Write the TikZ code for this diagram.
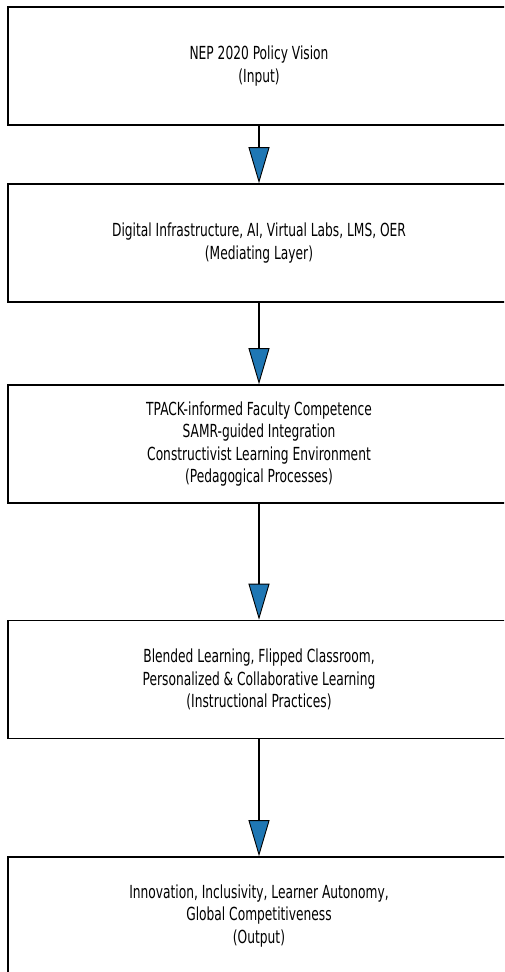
\documentclass[tikz,border=0pt]{standalone}
\usepackage{fontspec}
\newfontfamily\stagefont{DejaVu Sans}[FakeStretch=0.68]
\usetikzlibrary{arrows.meta}
\definecolor{flowblue}{HTML}{1F77B4}
\tikzset{
  stage/.style={draw=black,line width=1.6pt,minimum width=502pt,minimum height=118pt,
    align=center,font=\stagefont\fontsize{18}{22.3}\selectfont,inner sep=0pt},
  flow/.style={line width=1.6pt,-{Triangle[length=36pt,width=21pt,fill=flowblue,line width=0.9pt]}}
}
\begin{document}
\begin{tikzpicture}[x=1pt,y=-1pt]
\clip (0,0) rectangle (504,972);
\fill[white] (0,0) rectangle (504,972);
% five stages, top to bottom
\node[stage] (vision) at (259,66) {NEP 2020 Policy Vision\\(Input)};
\node[stage] (infra) at (259,243) {Digital Infrastructure, AI, Virtual Labs, LMS, OER\\(Mediating Layer)};
\node[stage] (pedagogy) at (259,444) {TPACK-informed Faculty Competence\\SAMR-guided Integration\\Constructivist Learning Environment\\(Pedagogical Processes)};
\node[stage] (practice) at (259,679.5) {Blended Learning, Flipped Classroom,\\Personalized \& Collaborative Learning\\(Instructional Practices)};
\node[stage] (outcome) at (259,916) {Innovation, Inclusivity, Learner Autonomy,\\Global Competitiveness\\(Output)};
% arrows between stages
\draw[flow] (vision) -- (infra);
\draw[flow] (infra) -- (pedagogy);
\draw[flow] (pedagogy) -- (practice);
\draw[flow] (practice) -- (outcome);
\end{tikzpicture}
\end{document}
